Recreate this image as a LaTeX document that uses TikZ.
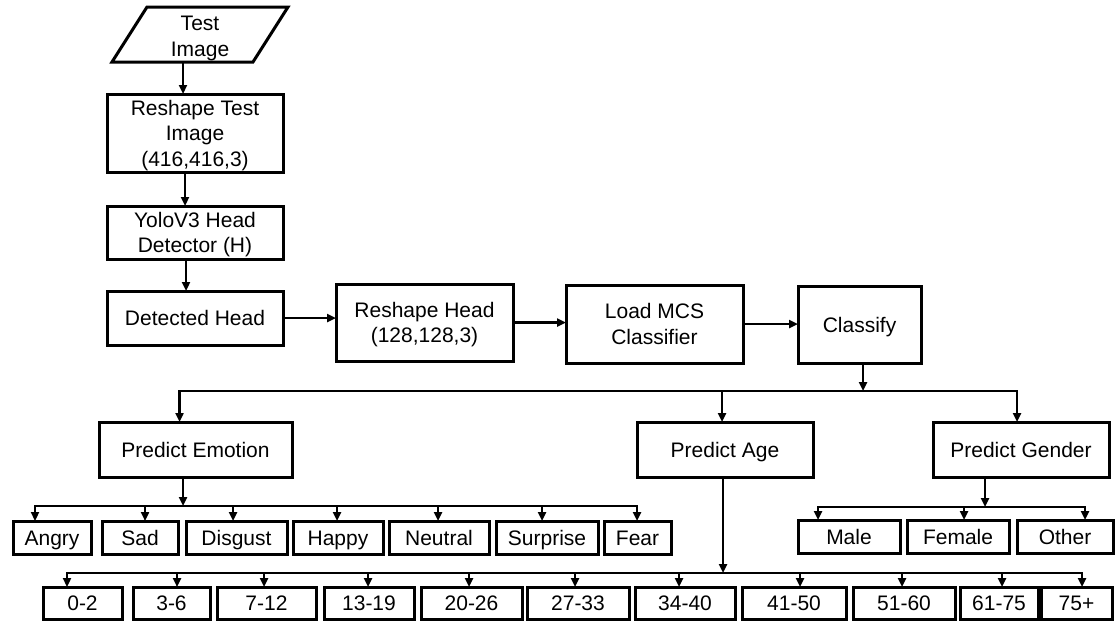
\documentclass[tikz,border=0pt]{standalone}
\usepackage{fontspec}
\setmainfont{Liberation Sans}
\usetikzlibrary{arrows.meta}

\tikzset{
  txt/.style={align=center, inner sep=0pt, outer sep=0pt,
    text height=15pt, text depth=0pt, font=\fontsize{21}{25.5}\selectfont},
  two/.style={text height=40.5pt},
  three/.style={text height=66pt},
  blk/.style={txt, draw, line width=3pt},
  leaf/.style={blk, minimum height=33pt},
  arr/.style={-{Triangle[width=8pt,length=9pt]}, line width=2.5pt},
}

\begin{document}
\begin{tikzpicture}[x=1pt,y=-1pt]
  \useasboundingbox (0,0) rectangle (1115,621);

  % input and main flow
  \draw[line width=3pt] (112,62) -- (147,7) -- (288,7) -- (253,62) -- cycle;
  \node[txt, two] (test) at (200,36) {Test\\Image};
  \coordinate (testout) at (183,62);

  \node[blk, three, minimum width=176pt, minimum height=78pt] (reshape) at (195,133) {Reshape Test\\Image\\(416,416,3)};
  \node[blk, two, minimum width=176pt, minimum height=53pt] (yolo) at (195,232.5) {YoloV3 Head\\Detector (H)};
  \node[blk, minimum width=176pt, minimum height=54pt] (detect) at (195,318) {Detected Head};
  \node[blk, two, minimum width=177pt, minimum height=77pt] (rhead) at (424.5,322.5) {Reshape Head\\(128,128,3)};
  \node[blk, two, minimum width=177pt, minimum height=78pt] (load) at (654.5,324) {Load MCS\\Classifier};
  \node[blk, minimum width=123pt, minimum height=77pt] (classify) at (859.5,324.5) {Classify};

  \draw[arr] (testout) -- (testout |- reshape.north);
  \draw[arr] ([xshift=-10pt]reshape.south) -- ([xshift=-10pt]yolo.north);
  \draw[arr] ([xshift=-9pt]yolo.south) -- ([xshift=-9pt]detect.north);
  \draw[arr] (detect.east) -- (detect.east -| rhead.west);
  \draw[arr] (rhead.east) -- (rhead.east -| load.west);
  \draw[arr] (load.east) -- (load.east -| classify.west);

  % three predictions
  \node[blk, minimum width=193pt, minimum height=55pt] (emotion) at (195.5,449.5) {Predict Emotion};
  \node[blk, minimum width=176pt, minimum height=55pt] (age) at (725,449.5) {Predict Age};
  \node[blk, minimum width=176pt, minimum height=55pt] (gender) at (1021,449.5) {Predict Gender};

  \coordinate (csplit) at (863,391);
  \draw[arr] (classify.south -| csplit) -- (csplit);
  \draw[arr] (csplit) -| ([xshift=-16pt]emotion.north);
  \draw[arr] (csplit) -| ([xshift=-3pt]age.north);
  \draw[arr] (csplit) -| ([xshift=-4pt]gender.north);

  % emotion classes
  \coordinate (esplit) at (183,506);
  \draw[arr] (emotion.south -| esplit) -- (esplit);
  \foreach \nm/\lbl/\cx/\w/\dx in {angry/Angry/52/78/-17, sad/Sad/140/76/5,
      disgust/Disgust/236.5/101/-3.5, happy/Happy/338/90/-1, neutral/Neutral/439/100/-1,
      surprise/Surprise/547/102/-5, fear/Fear/637.5/67/-0.5}{
    \node[leaf, minimum width=\w pt] (\nm) at (\cx,537.5) {\lbl};
    \draw[arr] (esplit) -| ([xshift=\dx pt]\nm.north);
  }

  % gender classes
  \coordinate (gsplit) at (985,507);
  \draw[arr] (gender.south -| gsplit) -- (gsplit);
  \foreach \nm/\lbl/\cx/\w/\dx in {male/Male/849/102/-31, female/Female/958/102/6,
      other/Other/1065/96/20}{
    \node[leaf, minimum width=\w pt] (\nm) at (\cx,536.5) {\lbl};
    \draw[arr] (gsplit) -| ([xshift=\dx pt]\nm.north);
  }

  % age groups
  \coordinate (asplit) at (723,573);
  \draw[arr] (age.south -| asplit) -- (asplit);
  \foreach \nm/\lbl/\cx/\w/\dx in {a1/0-2/82.5/79/-15.5, a2/3-6/171.5/77/5.5,
      a3/7-12/266.5/99/-2.5, a4/13-19/369/90/-1, a5/20-26/471.5/101/-2.5,
      a6/27-33/578/102/-3, a7/34-40/685/100/-6, a8/41-50/794/104/6,
      a9/51-60/904/102/-2, a10/61-75/999/78/3, a11/75+/1076.5/71/5.5}{
    \node[leaf, minimum height=32pt, minimum width=\w pt] (\nm) at (\cx,603) {\lbl};
    \draw[arr] (asplit) -| ([xshift=\dx pt]\nm.north);
  }
\end{tikzpicture}
\end{document}
